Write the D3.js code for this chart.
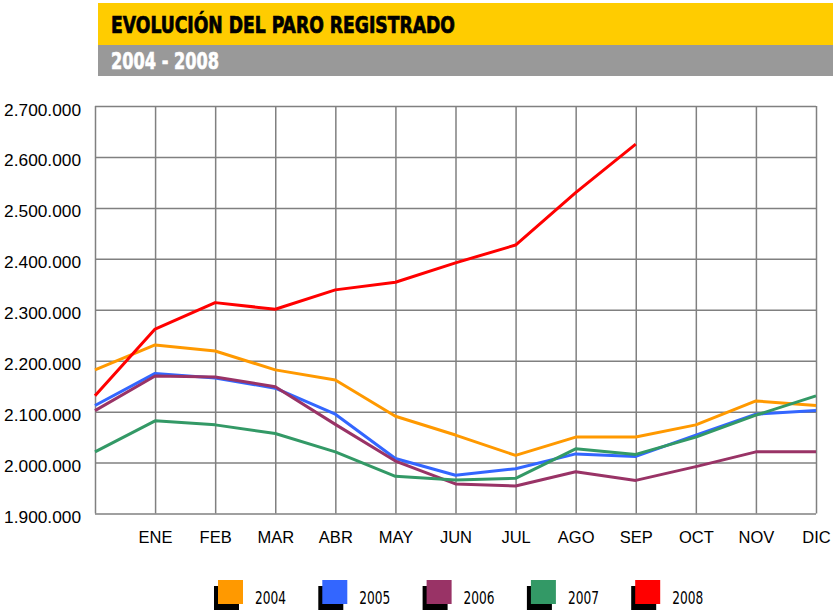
<!DOCTYPE html>
<html>
<head>
<meta charset="utf-8">
<script src="https://cdn.jsdelivr.net/npm/d3@7"></script>
<style>
  body { margin: 0; background: #fff; }
  svg { display: block; }
</style>
</head>
<body>
<div id="chart"></div>
<script>
// Data: first point is December of the previous year, then ENE..DIC
const months = ["", "ENE", "FEB", "MAR", "ABR", "MAY", "JUN", "JUL", "AGO", "SEP", "OCT", "NOV", "DIC"];
const years = ["2004", "2005", "2006", "2007", "2008"];
const colors = ["#FF9900", "#3366FF", "#993366", "#339966", "#FF0000"];

const v2004 = [2182000, 2231000, 2219000, 2182000, 2162000, 2091000, 2054000, 2014000, 2050000, 2050000, 2074000, 2121000, 2112000];
const v2005 = [2112000, 2175000, 2166000, 2146000, 2095000, 2008000, 1975000, 1988000, 2017000, 2012000, 2054000, 2095000, 2102000];
const v2006 = [2102000, 2170000, 2168000, 2149000, 2075000, 2003000, 1958000, 1954000, 1982000, 1965000, 1992000, 2021000, 2021000];
const v2007 = [2021000, 2082000, 2074000, 2057000, 2021000, 1973000, 1966000, 1969000, 2027000, 2016000, 2050000, 2093000, 2131000];
const v2008 = [2131000, 2262000, 2314000, 2301000, 2339000, 2354000, 2392000, 2427000, 2530000, 2625000, null, null, null];
const series = [v2004, v2005, v2006, v2007, v2008];

const yTicks = [1900000, 2000000, 2100000, 2200000, 2300000, 2400000, 2500000, 2600000, 2700000];

const title = "EVOLUCIÓN DEL PARO REGISTRADO";
const subtitle = "2004 - 2008";

// Layout
const W = 833, H = 615;
const plot = {left: 95, right: 816, top: 106, bottom: 513.5};
const condensed = "'DejaVu Sans Condensed', 'DejaVu Sans', sans-serif";

const svg = d3.select("#chart").append("svg")
    .attr("width", W)
    .attr("height", H);

// Title banners
svg.append("rect").attr("x", 98).attr("y", 3).attr("width", W - 98).attr("height", 42).attr("fill", "#FFCC00");
svg.append("rect").attr("x", 98).attr("y", 45).attr("width", W - 98).attr("height", 31).attr("fill", "#999999");

svg.append("text")
    .attr("x", 111).attr("y", 32.5)
    .attr("font-family", condensed)
    .attr("font-weight", "bold")
    .attr("font-stretch", "condensed")
    .attr("font-size", 23)
    .attr("textLength", 344)
    .attr("lengthAdjust", "spacingAndGlyphs")
    .attr("fill", "#000")
    .attr("stroke", "#000")
    .attr("stroke-width", 0.7)
    .text(title);

svg.append("text")
    .attr("x", 111).attr("y", 68.5)
    .attr("font-family", condensed)
    .attr("font-weight", "bold")
    .attr("font-stretch", "condensed")
    .attr("font-size", 23)
    .attr("textLength", 108)
    .attr("lengthAdjust", "spacingAndGlyphs")
    .attr("fill", "#fff")
    .attr("stroke", "#fff")
    .attr("stroke-width", 0.6)
    .text(subtitle);

// Scales
const x = d3.scaleLinear().domain([0, months.length - 1]).range([plot.left, plot.right]);
const y = d3.scaleLinear().domain([1900000, 2700000]).range([plot.bottom, plot.top]);

const esLocale = d3.formatLocale({decimal: ",", thousands: ".", grouping: [3], currency: ["", " €"]});
const fmt = esLocale.format(",d");

// Y axis with horizontal gridlines
const yAxis = svg.append("g")
    .attr("transform", `translate(${plot.left},0)`)
    .call(d3.axisLeft(y).tickValues(yTicks).tickFormat(fmt)
        .tickSize(-(plot.right - plot.left)).tickPadding(14));
yAxis.select(".domain").remove();
yAxis.selectAll("line").attr("stroke", "#808080").attr("stroke-width", 1.5);
yAxis.selectAll("text")
    .attr("font-family", "Liberation Sans, Arial, sans-serif")
    .attr("font-size", 17.3)
    .attr("fill", "#000")
    .attr("dy", "0.52em");

// X axis with vertical gridlines
const xAxis = svg.append("g")
    .attr("transform", `translate(0,${plot.bottom})`)
    .call(d3.axisBottom(x).tickValues(d3.range(months.length)).tickFormat(i => months[i])
        .tickSize(-(plot.bottom - plot.top)).tickPadding(18));
xAxis.select(".domain").remove();
xAxis.selectAll("line").attr("stroke", "#808080").attr("stroke-width", 1.5);
xAxis.selectAll("text")
    .attr("font-family", "Liberation Sans, Arial, sans-serif")
    .attr("font-size", 16.5)
    .attr("fill", "#000");

// Lines
const line = d3.line()
    .defined(d => d != null)
    .x((d, i) => x(i))
    .y(d => y(d));

svg.append("g")
    .selectAll("path")
    .data(series)
    .join("path")
    .attr("d", line)
    .attr("fill", "none")
    .attr("stroke", (d, i) => colors[i])
    .attr("stroke-width", 3)
    .attr("stroke-linejoin", "round");

// Legend
const legend = svg.append("g")
    .selectAll("g")
    .data(years)
    .join("g")
    .attr("transform", (d, i) => `translate(${218 + i * 104.3},580)`);

legend.append("rect")
    .attr("x", -4).attr("y", 6).attr("width", 25).attr("height", 24)
    .attr("fill", "#000");
legend.append("rect")
    .attr("x", 0).attr("y", 0).attr("width", 25).attr("height", 24)
    .attr("fill", (d, i) => colors[i]);
legend.append("text")
    .attr("x", 37).attr("y", 23.5)
    .attr("font-family", condensed)
    .attr("font-stretch", "condensed")
    .attr("font-size", 18.5)
    .attr("textLength", 31)
    .attr("lengthAdjust", "spacingAndGlyphs")
    .attr("fill", "#000")
    .text(d => d);
</script>
</body>
</html>
